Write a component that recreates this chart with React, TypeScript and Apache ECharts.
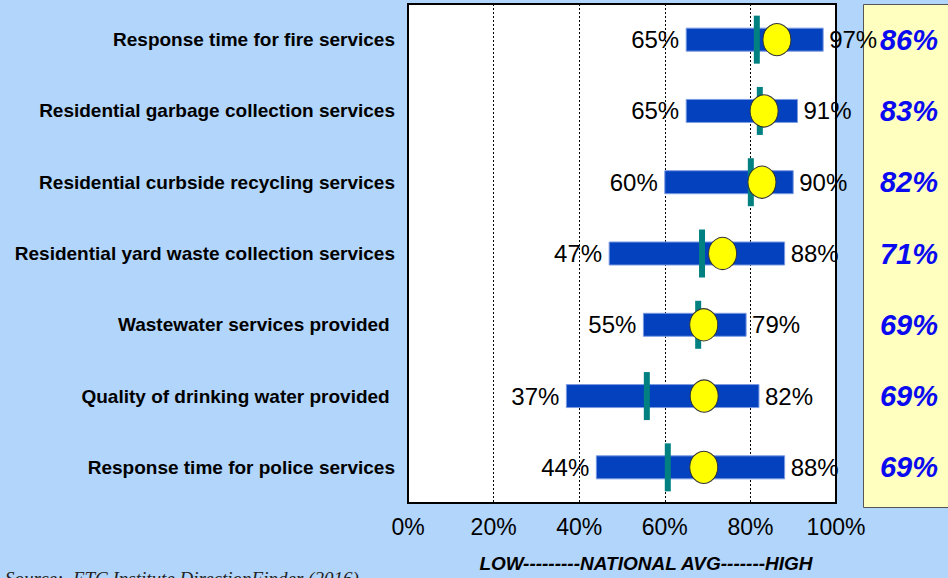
import React, { useEffect, useRef } from "react";
import * as echarts from "echarts";

const categories = [
  "Response time for fire services",
  "Residential garbage collection services",
  "Residential curbside recycling services",
  "Residential yard waste collection services",
  "Wastewater services provided ",
  "Quality of drinking water provided ",
  "Response time for police services",
];
const lowValues = [65, 65, 60, 47, 55, 37, 44];
const highValues = [97, 91, 90, 88, 79, 82, 88];
const nationalAvg = [81.5, 82.2, 80.1, 68.7, 67.8, 55.8, 60.7];
const cityDot = [86.2, 83.2, 82.7, 73.5, 69.1, 69.2, 69.1];
const scoreLabels = ["86%", "83%", "82%", "71%", "69%", "69%", "69%"];
const axisTitle = "LOW---------NATIONAL AVG-------HIGH";
const sourceText = "Source:  ETC Institute DirectionFinder (2016)";

const FONT = '"Liberation Sans", Arial, sans-serif';

export default function App() {
  const ref = useRef<HTMLDivElement>(null);
  useEffect(() => {
    if (!ref.current) return;
    const chart = echarts.init(ref.current, null, { renderer: "svg" });
    const rangeData = categories.map((_, i) => [i, lowValues[i], highValues[i]]);
    const avgData = categories.map((_, i) => [i, nationalAvg[i]]);
    const dotData = categories.map((_, i) => [cityDot[i], i]);
    chart.setOption({
      animation: false,
      backgroundColor: "#B2D5FB",
      textStyle: { fontFamily: FONT },
      grid: {
        left: 408,
        right: 112,
        top: 4,
        bottom: 74,
        show: true,
        backgroundColor: "#ffffff",
        borderColor: "#000000",
        borderWidth: 2,
        containLabel: false,
      },
      xAxis: {
        type: "value",
        min: 0,
        max: 100,
        interval: 20,
        axisLine: { show: false },
        axisTick: { show: false },
        axisLabel: { formatter: "{value}%", fontSize: 23, color: "#000", margin: 12, fontFamily: FONT },
        splitLine: { show: true, lineStyle: { type: [2, 2], color: "#000", width: 1 } },
        name: axisTitle,
        nameLocation: "middle",
        nameGap: 51,
        nameTextStyle: {
          fontSize: 19,
          fontWeight: "bold",
          fontStyle: "italic",
          color: "#000",
          fontFamily: FONT,
          padding: [0, 0, 0, 48],
        },
      },
      yAxis: [
        {
          type: "category",
          data: categories,
          inverse: true,
          axisLine: { show: false },
          axisTick: { show: false },
          splitLine: { show: false },
          axisLabel: { fontSize: 19, fontWeight: "bold", color: "#000", margin: 13, fontFamily: FONT },
        },
        {
          type: "category",
          data: scoreLabels,
          inverse: true,
          position: "right",
          axisLine: { show: false },
          axisTick: { show: false },
          splitLine: { show: false },
          axisLabel: {
            fontSize: 29,
            fontWeight: "bold",
            fontStyle: "italic",
            color: "#0A0AF0",
            align: "center",
            margin: 73,
            fontFamily: FONT,
          },
        },
      ],
      graphic: [
        {
          type: "rect",
          z: 0,
          shape: { x: 863.5, y: 4.5, width: 100, height: 503 },
          style: { fill: "#FFFFC0", stroke: "#555555", lineWidth: 1 },
        },
        {
          type: "text",
          left: 5,
          top: 569,
          style: { text: sourceText, font: 'italic 19px "Liberation Serif", serif', fill: "#222" },
        },
      ],
      series: [
        {
          type: "custom",
          yAxisIndex: 0,
          data: rangeData,
          encode: { x: [1, 2], y: 0 },
          z: 3,
          renderItem: (params: any, api: any) => {
            const idx = api.value(0);
            const lo = api.value(1);
            const hi = api.value(2);
            const s = api.coord([lo, idx]);
            const e = api.coord([hi, idx]);
            const h = 23;
            return {
              type: "group",
              children: [
                {
                  type: "rect",
                  shape: { x: s[0], y: s[1] - h / 2, width: e[0] - s[0], height: h },
                  style: { fill: "#0341BE", stroke: "#7B9BE2", lineWidth: 1 },
                },
                {
                  type: "text",
                  x: s[0] - 7,
                  y: s[1],
                  z2: 50,
                  style: { text: lo + "%", align: "right", verticalAlign: "middle", fontSize: 24, fill: "#000", fontFamily: FONT },
                },
                {
                  type: "text",
                  x: e[0] + 6,
                  y: s[1],
                  z2: 50,
                  style: { text: hi + "%", align: "left", verticalAlign: "middle", fontSize: 24, fill: "#000", fontFamily: FONT },
                },
              ],
            };
          },
        },
        {
          type: "custom",
          yAxisIndex: 0,
          data: avgData,
          encode: { x: 1, y: 0 },
          z: 4,
          renderItem: (params: any, api: any) => {
            const p = api.coord([api.value(1), api.value(0)]);
            return {
              type: "rect",
              shape: { x: p[0] - 3, y: p[1] - 24, width: 6, height: 48 },
              style: { fill: "#008080" },
            };
          },
        },
        {
          type: "scatter",
          yAxisIndex: 0,
          data: dotData,
          symbol: "circle",
          symbolSize: [28, 32],
          z: 5,
          itemStyle: { color: "#FFFF00", borderColor: "#333", borderWidth: 1, opacity: 1 },
        },
      ],
    });
    return () => chart.dispose();
  }, []);
  return (
    <div
      ref={ref}
      style={{ position: "fixed", left: 0, top: 0, width: 948, height: 578, background: "#B2D5FB" }}
    />
  );
}
